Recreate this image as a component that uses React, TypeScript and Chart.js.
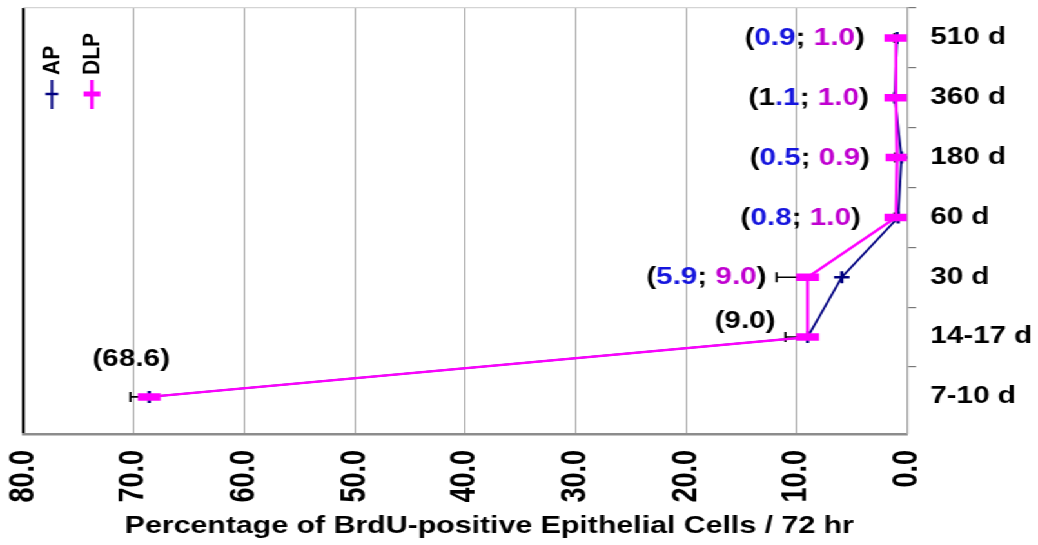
import React, { useEffect, useRef } from 'react';
import { Chart, registerables } from 'chart.js';

Chart.register(...registerables);

// ---------- data ----------
const categories = ['510 d', '360 d', '180 d', '60 d', '30 d', '14-17 d', '7-10 d'];
const seriesNames = ['AP', 'DLP'];
const apValues = [0.9, 1.1, 0.5, 0.8, 5.9, 9.0, 68.6];
const dlpValues = [1.0, 1.0, 0.9, 1.0, 9.0, 9.0, 68.6];
const errorPlus = [0.15, 0.15, 0.2, 0.15, 2.8, 2.0, 1.7];
const xTickValues = [0, 10, 20, 30, 40, 50, 60, 70, 80];
const labelKind = ['pair', 'pair', 'pair', 'pair', 'pair', 'single', 'single'];
const apBlackPrefix = [0, 1, 0, 0, 0, 0, 0];
const xTitle = 'Percentage of BrdU-positive Epithelial Cells / 72 hr';

// ---------- layout / style ----------
const CANVAS_W = 805;
const CANVAS_H = 545;
const STRETCH = 1038 / CANVAS_W;
const AREA_LEFT = 18.1;
const AREA_RIGHT = 703.4;
const AREA_TOP = 8;
const AREA_BOTTOM = 434;
const FONT = '"Liberation Sans", Arial, Helvetica, sans-serif';
const NAVY = '#000080';
const MAGENTA = '#ff00ff';
const TXT_BLUE = '#1515dd';
const TXT_PURPLE = '#c000d0';
const labelOffsets: [number, number, string][] = [
  [-24.1, 1, 'right'],
  [-21, 1, 'right'],
  [-21, 1, 'right'],
  [-27.2, 1, 'right'],
  [-31.8, 0, 'right'],
  [-24.8, -15, 'right'],
  [-14, -37, 'center'],
];
const legendX = [40.3, 71.3];

export default function App() {
  const ref = useRef<HTMLCanvasElement>(null);

  useEffect(() => {
    const n = categories.length;
    const yOf = (i: number) => n - 1 - i;

    const overlay = {
      id: 'overlay',
      beforeDatasetsDraw(chart: any) {
        const { ctx, scales } = chart;
        const x = scales.x;
        const y = scales.y;
        ctx.save();
        ctx.strokeStyle = '#000';
        ctx.lineWidth = 1.6;
        dlpValues.forEach((v, i) => {
          const px0 = x.getPixelForValue(v);
          const px1 = x.getPixelForValue(v + errorPlus[i]);
          const py = y.getPixelForValue(yOf(i));
          ctx.beginPath();
          ctx.moveTo(px0, py);
          ctx.lineTo(px1, py);
          ctx.moveTo(px1, py - 5);
          ctx.lineTo(px1, py + 5);
          ctx.stroke();
        });
        ctx.restore();
      },
      afterDraw(chart: any) {
        const { ctx, scales } = chart;
        const x = scales.x;
        const y = scales.y;
        ctx.save();
        // value annotations
        ctx.font = `bold 23px ${FONT}`;
        ctx.textBaseline = 'middle';
        ctx.textAlign = 'left';
        categories.forEach((_, i) => {
          let segs: [string, string][];
          if (labelKind[i] === 'single') {
            segs = [['(' + dlpValues[i].toFixed(1) + ')', '#000']];
          } else {
            const a = apValues[i].toFixed(1);
            const k = apBlackPrefix[i];
            segs = [
              ['(', '#000'],
              [a.slice(0, k), '#000'],
              [a.slice(k), TXT_BLUE],
              ['; ', '#000'],
              [dlpValues[i].toFixed(1), TXT_PURPLE],
              [')', '#000'],
            ];
          }
          const total = segs.reduce((s, sg) => s + ctx.measureText(sg[0]).width, 0);
          const [dx, dy, align] = labelOffsets[i];
          const ax = x.getPixelForValue(dlpValues[i]) + dx;
          const ay = y.getPixelForValue(yOf(i)) + dy;
          let cx = align === 'right' ? ax - total : ax - total / 2;
          segs.forEach(([t, c]) => {
            ctx.fillStyle = c;
            ctx.fillText(t, cx, ay);
            cx += ctx.measureText(t).width;
          });
        });

        // legend (rotated)
        const colors = [NAVY, MAGENTA];
        seriesNames.forEach((name, k) => {
          const lx = legendX[k];
          ctx.save();
          ctx.translate(lx, 75);
          ctx.scale(1.16 / STRETCH, 1);
          ctx.rotate(-Math.PI / 2);
          ctx.font = `bold 21px ${FONT}`;
          ctx.fillStyle = '#000';
          ctx.textAlign = 'left';
          ctx.textBaseline = 'middle';
          ctx.fillText(name, 0, 1);
          ctx.restore();
          ctx.strokeStyle = colors[k];
          ctx.lineWidth = k === 0 ? 2 : 2.8;
          ctx.beginPath();
          ctx.moveTo(lx, 80);
          ctx.lineTo(lx, 109);
          ctx.stroke();
          ctx.beginPath();
          if (k === 0) {
            ctx.lineWidth = 2.5;
            ctx.moveTo(lx - 5, 94);
            ctx.lineTo(lx + 5, 94);
          } else {
            ctx.lineWidth = 5;
            ctx.moveTo(lx - 6.5, 94);
            ctx.lineTo(lx + 6.5, 94);
          }
          ctx.stroke();
        });

        // x-axis title
        ctx.font = `bold 23.5px ${FONT}`;
        ctx.fillStyle = '#000';
        ctx.textAlign = 'center';
        ctx.textBaseline = 'alphabetic';
        ctx.fillText(xTitle, 379.5, 533);
        ctx.restore();
      },
    };

    const chart = new Chart(ref.current as HTMLCanvasElement, {
      type: 'scatter',
      data: {
        datasets: [
          {
            label: seriesNames[0],
            data: apValues.map((v, i) => ({ x: v, y: yOf(i) })),
            showLine: true,
            borderColor: NAVY,
            backgroundColor: NAVY,
            borderWidth: 1.8,
            pointStyle: 'cross',
            pointRadius: 6,
            pointBorderWidth: 2.5,
            pointBorderColor: NAVY,
            tension: 0,
            order: 1,
          },
          {
            label: seriesNames[1],
            data: dlpValues.map((v, i) => ({ x: v, y: yOf(i) })),
            showLine: true,
            borderColor: MAGENTA,
            backgroundColor: MAGENTA,
            borderWidth: 2.4,
            pointStyle: 'line',
            pointRadius: 8.9,
            pointBorderWidth: 7.5,
            pointBorderColor: MAGENTA,
            tension: 0,
            order: 0,
          },
        ],
      },
      options: {
        responsive: true,
        maintainAspectRatio: false,
        animation: false,
        events: [],
        layout: {
          autoPadding: false,
          padding: { left: AREA_LEFT, top: AREA_TOP, right: 0, bottom: 0 },
        },
        plugins: { legend: { display: false }, tooltip: { enabled: false } },
        scales: {
          x: {
            type: 'linear',
            min: 0,
            max: 80,
            reverse: true,
            afterBuildTicks: (scale: any) => {
              scale.ticks = xTickValues.map((v) => ({ value: v }));
            },
            afterFit: (scale: any) => {
              scale.height = CANVAS_H - AREA_BOTTOM;
              scale.paddingLeft = 0;
              scale.paddingRight = 0;
            },
            ticks: {
              autoSkip: false,
              minRotation: 90,
              maxRotation: 90,
              padding: 16,
              color: '#000',
              font: { family: FONT, size: 27, weight: 'bold' },
              callback: (v: any) => {
                const s = Number(v).toFixed(1);
                return Number(v) < 10 ? '  ' + s : s;
              },
            },
            grid: {
              drawTicks: false,
              color: (c: any) => (c.tick && c.tick.value === 80 ? '#000' : '#a0a0a0'),
              lineWidth: (c: any) => (c.tick && c.tick.value === 80 ? 2.3 : 1),
            },
            border: { display: true, color: '#8c8c8c', width: 2.5 },
            title: { display: false },
          },
          y: {
            type: 'linear',
            position: 'right',
            min: -0.62,
            max: 6.5,
            afterBuildTicks: (scale: any) => {
              const t: { value: number }[] = [];
              for (let i = 0; i < n; i++) {
                t.push({ value: i });
                t.push({ value: i + 0.5 });
              }
              scale.ticks = t;
            },
            afterFit: (scale: any) => {
              scale.width = CANVAS_W - AREA_RIGHT;
              scale.paddingTop = 0;
              scale.paddingBottom = 0;
            },
            ticks: {
              autoSkip: false,
              padding: 11,
              color: '#000',
              font: { family: FONT, size: 23, weight: 'bold' },
              callback: (v: any) =>
                Number.isInteger(Number(v)) ? categories[n - 1 - Number(v)] : '',
            },
            grid: {
              drawTicks: true,
              tickLength: 7,
              color: (c: any) => (c.tick && c.tick.value === 6.5 ? '#d4d4d4' : 'rgba(0,0,0,0)'),
              tickColor: (c: any) =>
                c.tick && Number.isInteger(c.tick.value) ? 'rgba(0,0,0,0)' : '#777',
              lineWidth: 1.2,
            },
            border: { display: true, color: '#a8a8a8', width: 1.3 },
          },
        },
      },
      plugins: [overlay],
    } as any);

    return () => chart.destroy();
  }, []);

  return (
    <div
      style={{
        position: 'absolute',
        left: 0,
        top: 0,
        width: CANVAS_W,
        height: CANVAS_H,
        transform: `scaleX(${STRETCH})`,
        transformOrigin: '0 0',
        background: '#fff',
      }}
    >
      <canvas ref={ref} />
    </div>
  );
}
